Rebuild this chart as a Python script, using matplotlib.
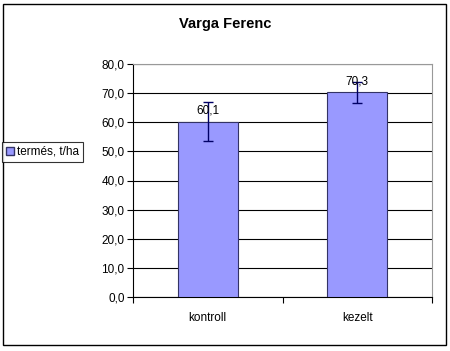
import numpy as np
import matplotlib.pyplot as plt
from matplotlib.patches import Rectangle

plt.rcParams['font.family'] = ['Liberation Sans', 'DejaVu Sans']

categories = ['kontroll', 'kezelt']
values = [60.1, 70.3]
errors = [6.7, 3.6]
labels = ['60,1', '70,3']
series_name = 'termés, t/ha'
title = 'Varga Ferenc'
yticks = [0, 10, 20, 30, 40, 50, 60, 70, 80]

W, H = 450, 351
fig = plt.figure(figsize=(4.5, 3.51), dpi=100)
fig.patch.set_facecolor('white')

# outer chart border
fig.patches.append(Rectangle((3 / W, 1 - 345 / H), 443 / W, 341 / H,
                             transform=fig.transFigure, fill=False,
                             edgecolor='black', linewidth=1.0))

ax = fig.add_axes([133 / W, 1 - 297 / H, 299 / W, 233 / H])
x = np.arange(len(categories))
ax.bar(x, values, width=0.4, color='#9999ff', edgecolor='#333366',
       linewidth=0.8, zorder=3)
ax.errorbar(x, values, yerr=errors, fmt='none', ecolor='#000066',
            elinewidth=1.0, capsize=3.5, capthick=1.0, zorder=4)
for xi, v, lab in zip(x, values, labels):
    ax.text(xi, v + 3.8, lab, ha='center', va='center', fontsize=8.5,
            zorder=5)

ax.set_xlim(-0.5, 1.5)
ax.set_ylim(0, 80)
ax.set_yticks(yticks)
ax.set_yticklabels([f'{t:.1f}'.replace('.', ',') for t in yticks], fontsize=8.5)
ax.set_xticks([-0.5, 0.5, 1.5])
ax.set_xticklabels([])
ax.set_xticks(x, minor=True)
ax.set_xticklabels(categories, minor=True, fontsize=8.5)
ax.tick_params(axis='x', which='minor', length=0, pad=11)
ax.tick_params(axis='x', which='major', length=4, direction='out')
ax.tick_params(axis='y', length=4, direction='out', pad=2)
ax.yaxis.grid(True, color='black', linewidth=0.8, zorder=0)
ax.set_axisbelow(True)
for s in ['top', 'right']:
    ax.spines[s].set_color('#999999')
for s in ['left', 'bottom']:
    ax.spines[s].set_color('black')

fig.text(0.5, 1 - 24 / H, title, ha='center', va='center',
         fontsize=10.5, fontweight='bold')

# legend box on the left
leg = fig.legend([Rectangle((0, 0), 1, 1, facecolor='#9999ff',
                            edgecolor='#333366')],
                 [series_name], loc='center left',
                 bbox_to_anchor=(2 / W, 1 - 152 / H), fontsize=8.5,
                 frameon=True, fancybox=False, edgecolor='black',
                 handlelength=0.7, handleheight=0.7, handletextpad=0.3,
                 borderpad=0.3, borderaxespad=0)
leg.get_frame().set_linewidth(0.8)

plt.savefig('out.png', dpi=100)
